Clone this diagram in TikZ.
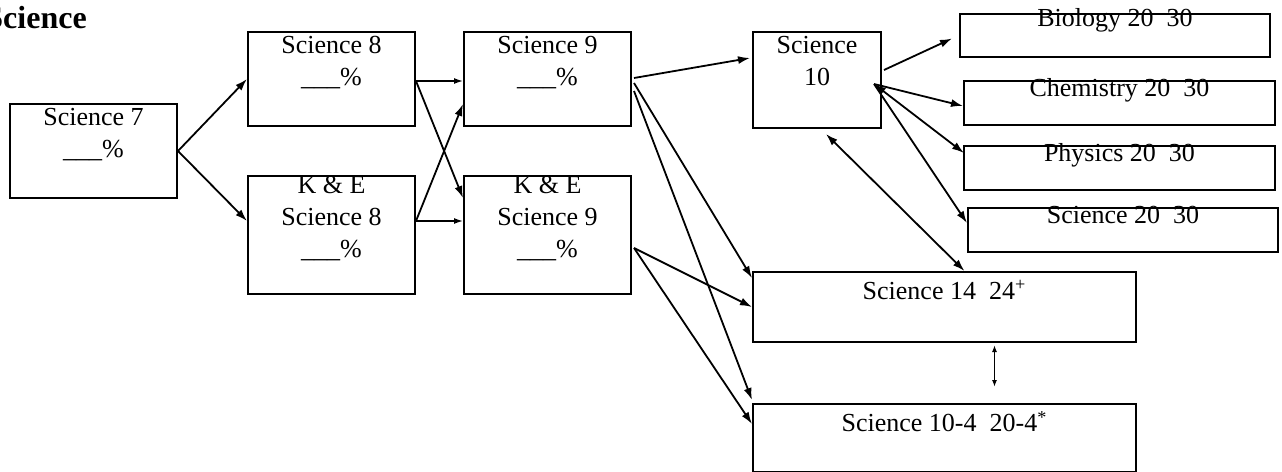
\documentclass[tikz,border=0pt]{standalone}
\usepackage{fontspec}
\setmainfont{Liberation Serif}
\usetikzlibrary{arrows.meta,calc}
\newlength\px
\setlength\px{0.5pt}
% box text: width, height, top gap (all in px), lines
\newcommand{\crs}[4]{\parbox[t][#2\px][t]{#1\px}{\centering\vspace*{#3\px}#4}}
\begin{document}
\begin{tikzpicture}[x=0.5pt,y=-0.5pt,
    course/.style={draw, line width=1pt, inner sep=0pt, anchor=north west,
        font=\fontsize{13pt}{16pt}\selectfont},
    arr/.style={-{Latex[length=6pt,width=4pt]}, line width=0.9pt},
    dblarr/.style={{Latex[length=6pt,width=4pt]}-{Latex[length=6pt,width=4pt]}, line width=0.9pt},
    smallarr/.style={-{Latex[length=4.5pt,width=3pt]}, line width=0.7pt},
    dblsmall/.style={{Latex[length=3.5pt,width=2.5pt]}-{Latex[length=3.5pt,width=2.5pt]}, line width=0.7pt}]
    \useasboundingbox (0,0) rectangle (1282,472);
    \node[anchor=base west, inner sep=0pt, font=\bfseries\fontsize{16pt}{19pt}\selectfont] (ttl) at (-15,28) {Science};
    % courses
    \node[course] (sci7) at (9,103) {\crs{167}{94}{4.2}{Science 7\\\_\_\_\%}};
    \node[course] (sci8) at (247,31) {\crs{167}{94}{4.2}{Science 8\\\_\_\_\%}};
    \node[course] (ke8) at (247,175) {\crs{167}{118}{0}{K \& E\\Science 8\\\_\_\_\%}};
    \node[course] (sci9) at (463,31) {\crs{167}{94}{4.2}{Science 9\\\_\_\_\%}};
    \node[course] (ke9) at (463,175) {\crs{167}{118}{0}{K \& E\\Science 9\\\_\_\_\%}};
    \node[course] (sci10) at (752,31) {\crs{128}{96}{4.2}{Science\\10}};
    \node[course] (bio) at (959,13) {\crs{310}{43}{-5.8}{Biology 20~~30}};
    \node[course] (chem) at (963,80) {\crs{311}{44}{-2.8}{Chemistry 20~~30}};
    \node[course] (phys) at (963,145) {\crs{311}{44}{-2.8}{Physics 20~~30}};
    \node[course] (sci20) at (967,207) {\crs{310}{44}{-1.8}{Science 20~~30}};
    \node[course] (sci14) at (752,271) {\crs{383}{70}{8.2}{Science 14~~24\textsuperscript{+}}};
    \node[course] (sci104) at (752,403) {\crs{383}{68}{7.2}{Science 10-4~~20-4\textsuperscript{*}}};
    % grades 7 to 9
    \draw[arr] (sci7.east) -- (sci8.west);
    \draw[arr] (sci7.east) -- ($(ke8.west)+(0,-14)$);
    \draw[smallarr] ($(sci8.east)+(0,2)$) -- ($(sci9.west)+(0,2)$);
    \draw[arr] ($(sci8.east)+(0,2)$) -- ($(ke9.west)+(0,-37)$);
    \draw[arr] ($(ke8.east)+(0,-14)$) -- ($(sci9.west)+(0,25)$);
    \draw[smallarr] ($(ke8.east)+(0,-14)$) -- ($(ke9.west)+(0,-14)$);
    % into high school
    \draw[arr] ($(sci9.east)+(2,-1)$) -- ($(sci10.west)+(-2,-22)$);
    \draw[arr] ($(sci9.east)+(2,4)$) -- ($(sci14.north west)+(0,7)$);
    \draw[arr] ($(sci9.east)+(2,12)$) -- ($(sci104.north west)+(0,-3)$);
    \draw[arr] ($(ke9.east)+(2,13)$) -- (sci14.west);
    \draw[arr] ($(ke9.east)+(2,13)$) -- ($(sci104.west)+(0,-14)$);
    \draw[dblarr] ($(sci10.south)+(9,5)$) -- ($(sci14.north)+(20,0)$);
    \draw[dblsmall] ($(sci14.south)+(50,2)$) -- ($(sci104.north)+(50,-16)$);
    % 20 and 30 level
    \draw[arr] ($(sci10.east)+(2,-10)$) -- ($(bio.west)+(-7,3)$);
    \draw[arr] ($(sci10.east)+(-8,4)$) -- ($(chem.west)+(0,3)$);
    \draw[dblarr] ($(sci10.east)+(-8,4)$) -- ($(phys.west)+(1,-15)$);
    \draw[arr] ($(sci10.east)+(-8,4)$) -- ($(sci20.west)+(0,-7)$);
\end{tikzpicture}
\end{document}
